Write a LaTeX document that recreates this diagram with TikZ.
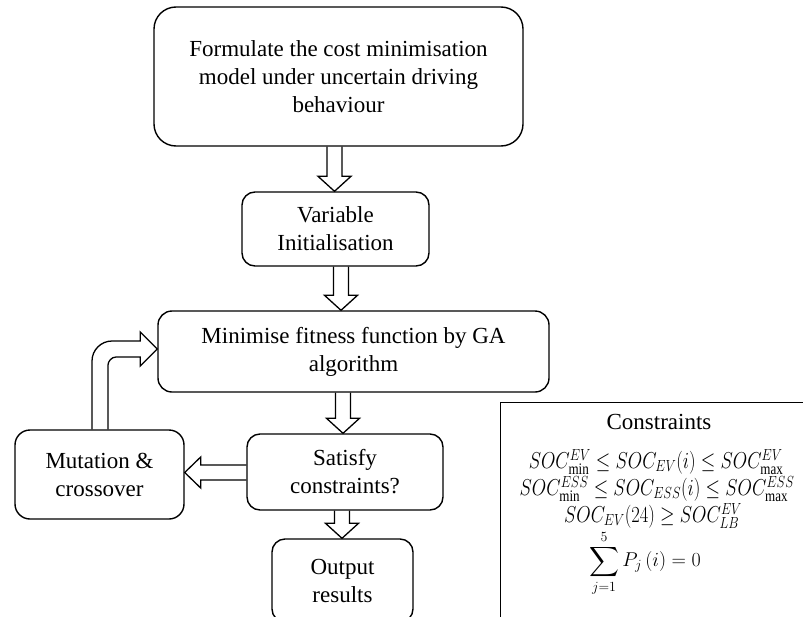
\RequirePackage{fix-cm}
\documentclass[tikz,border=0pt]{standalone}
\usepackage{amsmath}
\usepackage{fontspec}
\setmainfont{Liberation Serif}
\usetikzlibrary{calc}

\tikzset{
  stage/.style={draw=black, line width=1.4pt, rounded corners=#1, align=center,
    inner sep=0pt, font=\fontsize{23}{28}\selectfont},
  stage/.default=14pt,
  hollow/.style={draw=black, line width=1.3pt, line join=miter},
  framebox/.style={draw=black, line width=1.4pt, inner sep=0pt},
  ctext/.style={inner sep=0pt, font=\fontsize{23}{28}\selectfont},
  mtext/.style={inner sep=0pt, font=\fontsize{23}{27}\selectfont},
  sumtext/.style={inner sep=0pt, font=\fontsize{20}{24}\selectfont},
}

% narrow-set formula for the constraints panel
\newcommand\cform[1]{\scalebox{0.81}[1]{$#1$}}

% hollow block arrow pointing down: x centre, upper node, lower node
\newcommand\hollowdown[3]{%
  \coordinate (hd-s) at (#1,0 |- #2.south);
  \coordinate (hd-t) at (#1,0 |- #3.north);
  \draw[hollow] ($(hd-s)+(-7.5,0)$) -- ($(hd-t)+(-7.5,-15)$) -- ($(hd-t)+(-16.5,-15)$)
    -- (hd-t) -- ($(hd-t)+(16.5,-15)$) -- ($(hd-t)+(7.5,-15)$) -- ($(hd-s)+(7.5,0)$);
}

\begin{document}
\begin{tikzpicture}[x=1pt,y=-1pt]
  \useasboundingbox (0,0) rectangle (803,616);
  \fill[white] (0,0) rectangle (803,616);
  \clip (0,0) rectangle (803,616);

  % process stages
  \node[stage=22pt, minimum width=369pt, minimum height=139pt] (b1) at (338.5,76.5)
    {Formulate the cost minimisation\\model under uncertain driving\\behaviour};
  \node[stage=13pt, minimum width=187pt, minimum height=74pt] (b2) at (335.5,229)
    {Variable\\Initialisation};
  \node[stage=14pt, minimum width=391pt, minimum height=81pt] (b3) at (353.5,351.5)
    {Minimise fitness function by GA\\algorithm};
  \node[stage=13pt, minimum width=196pt, minimum height=76pt] (b4) at (345,472)
    {Satisfy\\constraints?};
  \node[stage=15pt, minimum width=169pt, minimum height=89pt] (b5) at (99.5,474.5)
    {Mutation \&\\crossover};
  \node[stage=13pt, minimum width=141pt, minimum height=83pt] (b6) at (342.5,580.5)
    {Output\\results};

  % downward flow
  \hollowdown{334.5}{b1}{b2}
  \hollowdown{341}{b2}{b3}
  \hollowdown{343}{b3}{b4}
  \hollowdown{342}{b4}{b6}

  % from the check back to mutation
  \coordinate (la-s) at (b4.west |- 0,472.5);
  \coordinate (la-t) at (b5.east |- 0,472.5);
  \draw[hollow] ($(la-s)+(0,-7.5)$) -- ($(la-t)+(16,-7.5)$) -- ($(la-t)+(16,-15.5)$)
    -- (la-t) -- ($(la-t)+(16,15.5)$) -- ($(la-t)+(16,7.5)$) -- ($(la-s)+(0,7.5)$);

  % loop from mutation back into the GA stage
  \coordinate (lp-s) at (100,0 |- b5.north);
  \coordinate (lp-t) at (b3.west |- 0,349);
  \coordinate (lp-c) at (lp-s |- lp-t);
  \draw[hollow] ($(lp-s)+(-8,0)$) -- ($(lp-c)+(-8,12)$)
    .. controls ($(lp-c)+(-8,1)$) and ($(lp-c)+(1,-8)$) .. ($(lp-c)+(12,-8)$)
    -- ($(lp-t)+(-17,-8)$) -- ($(lp-t)+(-17,-17)$) -- (lp-t)
    -- ($(lp-t)+(-17,17)$) -- ($(lp-t)+(-17,8)$) -- ($(lp-c)+(16,8)$)
    .. controls ($(lp-c)+(11.6,8)$) and ($(lp-c)+(8,12.4)$) .. ($(lp-c)+(8,16)$)
    -- ($(lp-s)+(8,0)$);

  % constraints panel
  \node[framebox, anchor=north west, minimum width=318pt, minimum height=238pt] (cons) at (500,402) {};
  \node[ctext] (c0) at (659,422) {Constraints};
  \node[mtext] (c1) at (656,462) {\cform{SOC^{EV}_{\min} \le SOC_{EV}(i) \le SOC^{EV}_{\max}}};
  \node[mtext] (c2) at (657,489) {\cform{SOC^{ESS}_{\min} \le SOC_{ESS}(i) \le SOC^{ESS}_{\max}}};
  \node[mtext] (c3) at (653,516) {\cform{SOC_{EV}(24) \ge SOC^{EV}_{LB}}};
  \node[sumtext] (c4) at (645,563) {$\displaystyle\sum_{j=1}^{5} P_j\,(i) = 0$};
\end{tikzpicture}
\end{document}
